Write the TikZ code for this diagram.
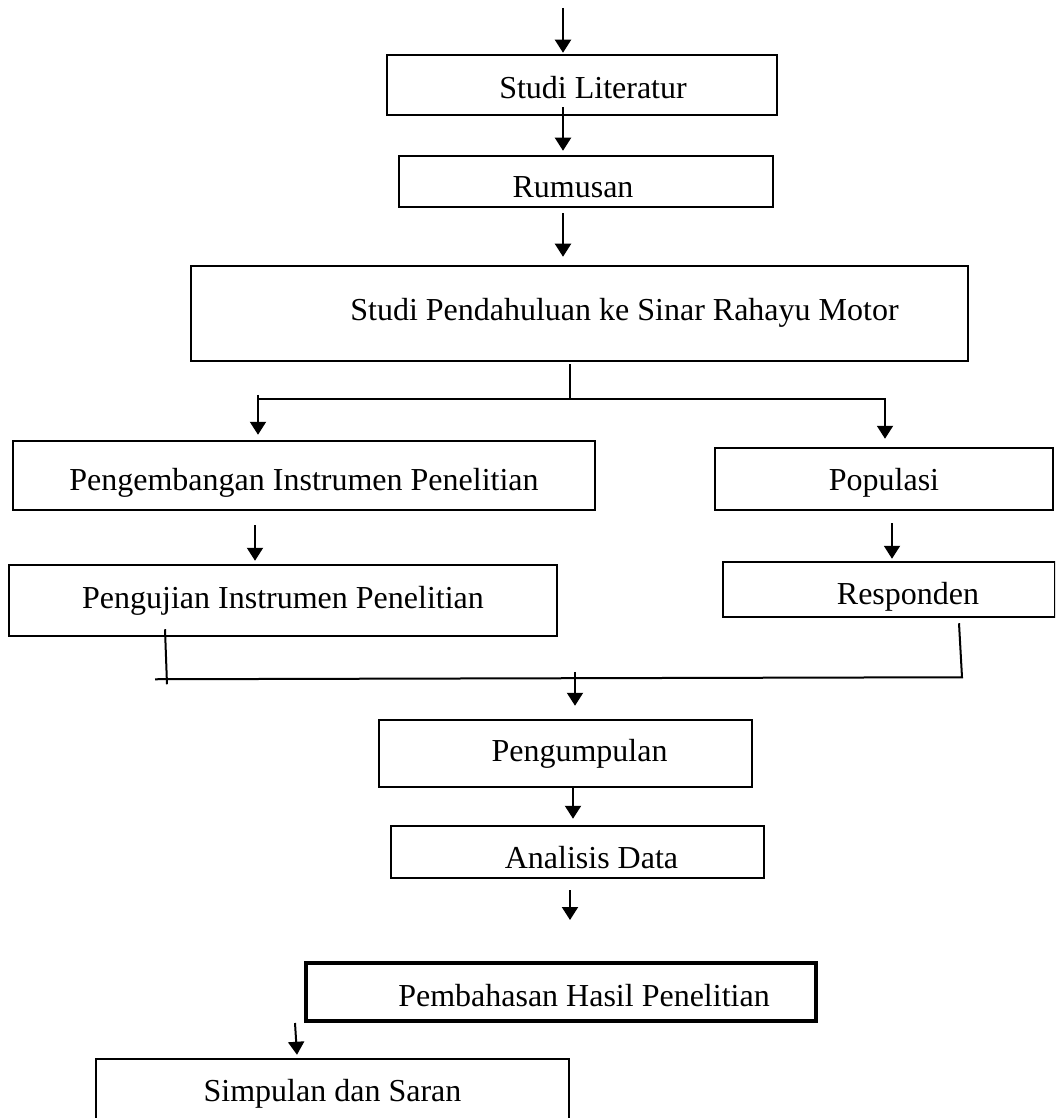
\documentclass[tikz,border=0pt]{standalone}
\usepackage{fontspec}
\setmainfont{Liberation Serif}
\usetikzlibrary{arrows.meta,calc,positioning}

\newcommand{\boxtext}[2]{\raisebox{-#1}{#2}}

\tikzset{
  box/.style={draw,rectangle,line width=1.25pt,inner sep=0pt,text height=0pt,text depth=0pt,
    font=\fontsize{16}{19}\selectfont},
  line/.style={line width=1pt},
  arr/.style={line width=1pt,-{Triangle[length=6.5pt,width=8pt]}},
}

\begin{document}
\begin{tikzpicture}[x=0.5pt,y=-0.5pt]
  \clip (0,0) rectangle (1055,1118);
  % boxes
  \node[box,minimum width=195pt,minimum height=30pt] (lit) at (582,85) {\boxtext{7pt}{\hspace*{11pt}Studi Literatur}};
  \node[box,minimum width=187pt,minimum height=25.5pt] (rum) at (586,181.5) {\boxtext{8.25pt}{Rumusan\hspace*{13pt}}};
  \node[box,minimum width=388.5pt,minimum height=47.5pt] (pend) at (579.5,313.5) {\boxtext{3.25pt}{\hspace*{45pt}Studi Pendahuluan ke Sinar Rahayu Motor}};
  \node[box,minimum width=291pt,minimum height=34.5pt] (kemb) at (304,475.5) {\boxtext{7.25pt}{Pengembangan Instrumen Penelitian}};
  \node[box,minimum width=169pt,minimum height=31pt] (pop) at (884,479) {\boxtext{5.5pt}{Populasi}};
  \node[box,minimum width=274pt,minimum height=35.5pt] (uji) at (283,600.5) {\boxtext{3.75pt}{Pengujian Instrumen Penelitian}};
  \node[box,minimum width=166pt,minimum height=27.5pt] (resp) at (889,589.5) {\boxtext{7.25pt}{\hspace*{19pt}Responden}};
  \node[box,minimum width=186.5pt,minimum height=33.5pt] (kumpul) at (565.5,753.5) {\boxtext{3.75pt}{\hspace*{14pt}Pengumpulan}};
  \node[box,minimum width=186.5pt,minimum height=26pt] (anal) at (577.5,852) {\boxtext{8pt}{\hspace*{14pt}Analisis Data}};
  \node[box,line width=2pt,minimum width=255pt,minimum height=29pt] (bahas) at (561,992) {\boxtext{7pt}{\hspace*{23pt}Pembahasan Hasil Penelitian}};
  \node[box,minimum width=236.5pt,minimum height=31pt] (simp) at (332.5,1090) {\boxtext{5.5pt}{Simpulan dan Saran}};

  % arrows
  \coordinate (start) at (563,8);
  \draw[arr] (start) -- ($(lit.north)+(-19,-1)$);
  \draw[arr] ($(lit.south)+(-19,-9)$) -- ($(rum.north)+(-23,-4)$);
  \draw[arr] ($(rum.south)+(-23,5)$) -- ($(pend.north)+(-16.5,-8)$);
  \draw[line] ($(pend.south)+(-9.5,2)$) -- ++(0,34);
  \draw[arr] ($(kemb.north)+(-46,-45)$) -- ($(kemb.north)+(-46,-5)$);
  \draw[arr] ($(kemb.north)+(-46,-41)$) -| ($(pop.north)+(1,-8)$);
  \draw[arr] ($(kemb.south)+(-49,14)$) -- ($(uji.north)+(-28,-3)$);
  \draw[arr] ($(pop.south)+(8,12)$) -- ($(resp.north)+(3,-2)$);
  \draw[line] ($(uji.south)+(-118,-8)$) -- ++(2,55);
  \draw[line] ($(resp.south)+(70,5)$) -- ++(3,54) -- ($(uji.south)+(-128,42)$);
  \draw[arr] ($(kumpul.north)+(9.5,-47)$) -- ($(kumpul.north)+(9.5,-13)$);
  \draw[arr] ($(kumpul.south)+(7.5,0)$) -- ($(anal.north)+(-4.5,-6)$);
  \draw[arr] ($(anal.south)+(-7.5,11)$) -- ($(bahas.north)+(9,-41)$);
  \draw[arr] ($(bahas.south west)+(-9,0)$) -- ($(simp.north)+(-35.5,-3)$);
\end{tikzpicture}
\end{document}
